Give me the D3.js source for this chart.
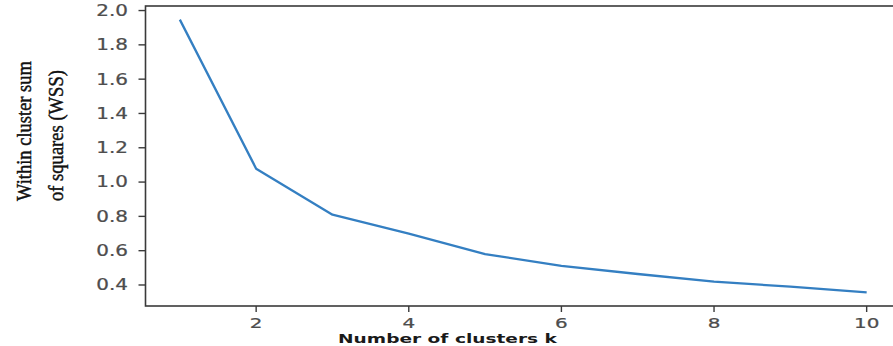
<!DOCTYPE html>
<html>
<head>
<meta charset="utf-8">
<script src="https://cdn.jsdelivr.net/npm/d3@7"></script>
<style>
html,body{margin:0;padding:0;background:#fff;}
svg{display:block;}
</style>
</head>
<body>
<svg id="chart" width="893" height="346"></svg>
<script>
const kValues = [1, 2, 3, 4, 5, 6, 7, 8, 9, 10];
const wssValues = [1.947, 1.078, 0.81, 0.70, 0.58, 0.512, 0.464, 0.42, 0.39, 0.357];
const xTicks = [2, 4, 6, 8, 10];
const yTicks = [0.4, 0.6, 0.8, 1.0, 1.2, 1.4, 1.6, 1.8, 2.0];
const xLabel = "Number of clusters k";
const yLabelLines = ["Within cluster sum", "of squares (WSS)"];

(function () {
const svg = d3.select("#chart");
const pLeft = 145.5, pRight = 901, pTop = 6, pBottom = 306;
const x = d3.scaleLinear().domain([0.55, 10.45]).range([pLeft, pRight]);
const y = d3.scaleLinear().domain([0.2775, 2.0265]).range([pBottom, pTop]);
const sx = 1.33;
const tickColor = "#3a3a3a";
const labelColor = "#4d4d4d";

// line
const line = d3.line().x((d, i) => x(kValues[i])).y(d => y(d));
svg.append("path").datum(wssValues)
  .attr("d", line)
  .attr("fill", "none")
  .attr("stroke", "#347fc2")
  .attr("stroke-width", 2.3)
  .attr("stroke-linejoin", "round");

// spines
svg.append("rect").attr("x", pLeft).attr("y", pTop)
  .attr("width", pRight - pLeft).attr("height", pBottom - pTop)
  .attr("fill", "none").attr("stroke", "#3a3a3a").attr("stroke-width", 1.6);

// y ticks
const yg = svg.append("g");
yTicks.forEach(t => {
  const yy = y(t);
  yg.append("line").attr("x1", pLeft - 7).attr("x2", pLeft).attr("y1", yy).attr("y2", yy)
    .attr("stroke", tickColor).attr("stroke-width", 1.4);
  yg.append("text")
    .attr("transform", `translate(${pLeft - 17.5},${yy}) scale(${sx},1)`)
    .attr("text-anchor", "end").attr("dy", "0.36em")
    .attr("font-family", "DejaVu Sans").attr("font-size", 15)
    .attr("fill", labelColor).attr("stroke", labelColor).attr("stroke-width", 0.25)
    .text(t.toFixed(1));
});

// x ticks
const xg = svg.append("g");
xTicks.forEach(t => {
  const xx = x(t);
  xg.append("line").attr("x1", xx).attr("x2", xx).attr("y1", pBottom).attr("y2", pBottom + 6)
    .attr("stroke", tickColor).attr("stroke-width", 1.4);
  xg.append("text")
    .attr("transform", `translate(${xx},${327.5}) scale(${sx * 15 / 14.5},1)`)
    .attr("text-anchor", "middle")
    .attr("font-family", "DejaVu Sans").attr("font-size", 14.5)
    .attr("fill", labelColor).attr("stroke", labelColor).attr("stroke-width", 0.25)
    .text(t);
});

// x label
const xl = svg.append("text")
  .attr("text-anchor", "middle")
  .attr("font-family", "DejaVu Sans").attr("font-weight", "bold").attr("font-size", 13)
  .attr("fill", "#1a1a1a").text(xLabel);
const xlw = xl.node().getComputedTextLength();
xl.attr("transform", `translate(447.5,343) scale(${219 / xlw},1)`);

// y label
const ylx = [31, 63];
yLabelLines.forEach((s, i) => {
  const t = svg.append("text")
    .attr("text-anchor", "start")
    .attr("font-family", "Liberation Serif").attr("font-size", 16)
    .attr("fill", "#111").attr("stroke", "#111").attr("stroke-width", 0.35)
    .text(s);
  const w = t.node().getComputedTextLength();
  const target = i === 0 ? 140 : 131;
  t.attr("transform", `translate(${ylx[i]},201) rotate(-90) scale(${target / w},1.3)`);
});
})();
</script>
</body>
</html>
